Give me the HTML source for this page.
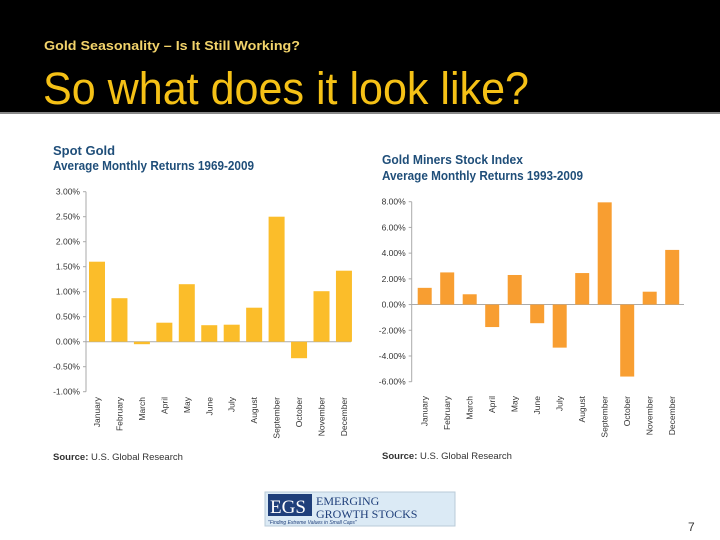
<!DOCTYPE html>
<html><head><meta charset="utf-8"><style>
html,body{margin:0;padding:0;width:720px;height:540px;overflow:hidden;background:#fff;font-family:"Liberation Sans",sans-serif}
</style></head><body>
<svg id="s" width="720" height="540" xmlns="http://www.w3.org/2000/svg">
<rect x="0" y="0" width="720" height="112" fill="#000"/>
<rect x="0" y="112" width="720" height="2" fill="#888"/>
<text x="44" y="50" font-size="13" font-weight="bold" fill="#f2d36b" textLength="256" lengthAdjust="spacingAndGlyphs">Gold Seasonality – Is It Still Working?</text>
<text x="43" y="104" font-size="45" fill="#f5c116" textLength="486" lengthAdjust="spacingAndGlyphs">So what does it look like?</text>
<text x="53" y="155" font-size="13" font-weight="bold" fill="#1f4e79">Spot Gold</text>
<text x="53" y="170" font-size="13" font-weight="bold" fill="#1f4e79" textLength="201" lengthAdjust="spacingAndGlyphs">Average Monthly Returns 1969-2009</text>
<text x="382" y="164" font-size="13" font-weight="bold" fill="#1f4e79" textLength="141" lengthAdjust="spacingAndGlyphs">Gold Miners Stock Index</text>
<text x="382" y="180" font-size="13" font-weight="bold" fill="#1f4e79" textLength="201" lengthAdjust="spacingAndGlyphs">Average Monthly Returns 1993-2009</text>
<text x="53" y="460" font-size="9.5" fill="#333"><tspan font-weight="bold">Source:</tspan> U.S. Global Research</text>
<text x="382" y="459" font-size="9.5" fill="#333"><tspan font-weight="bold">Source:</tspan> U.S. Global Research</text>
<g>
<rect x="265" y="492" width="190" height="34" fill="#dbeaf5" stroke="#b9cbd8"/>
<rect x="268" y="494" width="44" height="22" fill="#1f3f7a"/>
<text x="270" y="513" font-size="19" fill="#fff" font-family="Liberation Serif,serif">EGS</text>
<text x="316" y="505" font-size="12" fill="#1f3f7a" font-family="Liberation Serif,serif">EMERGING</text>
<text x="316" y="518" font-size="12" fill="#1f3f7a" font-family="Liberation Serif,serif">GROWTH  STOCKS</text>
<text x="268" y="524" font-size="5" fill="#1f3f7a" font-style="italic">"Finding Extreme Values in Small Caps"</text>
</g>
<text x="688" y="531" font-size="12" fill="#333">7</text>
<g id="c1"></g><g id="c2"></g>
</svg>
<script>
const months=["January","February","March","April","May","June","July","August","September","October","November","December"];
const goldValues=[1.6,0.87,-0.05,0.38,1.15,0.33,0.34,0.68,2.5,-0.33,1.01,1.42];
const goldTicks=["3.00%","2.50%","2.00%","1.50%","1.00%","0.50%","0.00%","-0.50%","-1.00%"];
const goldTickVals=[3,2.5,2,1.5,1,0.5,0,-0.5,-1];
const minerValues=[1.3,2.5,0.8,-1.75,2.3,-1.45,-3.35,2.45,7.95,-5.6,1.0,4.25];
const minerTicks=["8.00%","6.00%","4.00%","2.00%","0.00%","-2.00%","-4.00%","-6.00%"];
const minerTickVals=[8,6,4,2,0,-2,-4,-6];
const NS="http://www.w3.org/2000/svg";
function mk(p,t,a){const e=document.createElementNS(NS,t);for(const k in a)e.setAttribute(k,a[k]);p.appendChild(e);return e;}
function chart(g,vals,tv,tl,cfg){
  const y=v=>cfg.y0+(cfg.max-v)*(cfg.y1-cfg.y0)/(cfg.max-cfg.min);
  const x=i=>cfg.cx0+i*cfg.step;
  let ax=mk(g,'line',{x1:cfg.ax,x2:cfg.ax,y1:y(cfg.max),y2:y(cfg.min),stroke:'#aaa','stroke-width':1});
  
  
  let zl=mk(g,'line',{x1:cfg.ax,x2:cfg.axEnd,y1:y(0),y2:y(0),stroke:'#aaa','stroke-width':1});
  
  
  tv.forEach((v,i)=>{
    mk(g,'line',{x1:cfg.ax-3,x2:cfg.ax,y1:y(v),y2:y(v),stroke:'#aaa'});
    const t=mk(g,'text',{x:cfg.ax-6,y:y(v)+3,'font-size':8.5,fill:'#333','text-anchor':'end'});
    t.textContent=tl[i];
    
    
  });
  vals.forEach((v,i)=>{
    const r=mk(g,'rect',{x:x(i)-cfg.bw/2,y:Math.min(y(v),y(0)),width:cfg.bw,height:Math.abs(y(v)-y(0)),fill:cfg.color});
    
    
    const t=mk(g,'text',{x:0,y:0,'font-size':8.5,fill:'#333','text-anchor':'end',transform:`translate(${x(i)+3},${cfg.labY}) rotate(-90)`});
    t.textContent=months[i];
    
    
  });
}
chart(document.getElementById('c1'),goldValues,goldTickVals,goldTicks,{y0:191.7,y1:391.7,max:3,min:-1,ax:86,axEnd:351,cx0:97,step:22.45,bw:16,color:'#fbbd2a',labY:397});
chart(document.getElementById('c2'),minerValues,minerTickVals,minerTicks,{y0:201.7,y1:381.7,max:8,min:-6,ax:411.7,axEnd:684,cx0:424.7,step:22.5,bw:14,color:'#f89e31',labY:396});
</script>
</body></html>
